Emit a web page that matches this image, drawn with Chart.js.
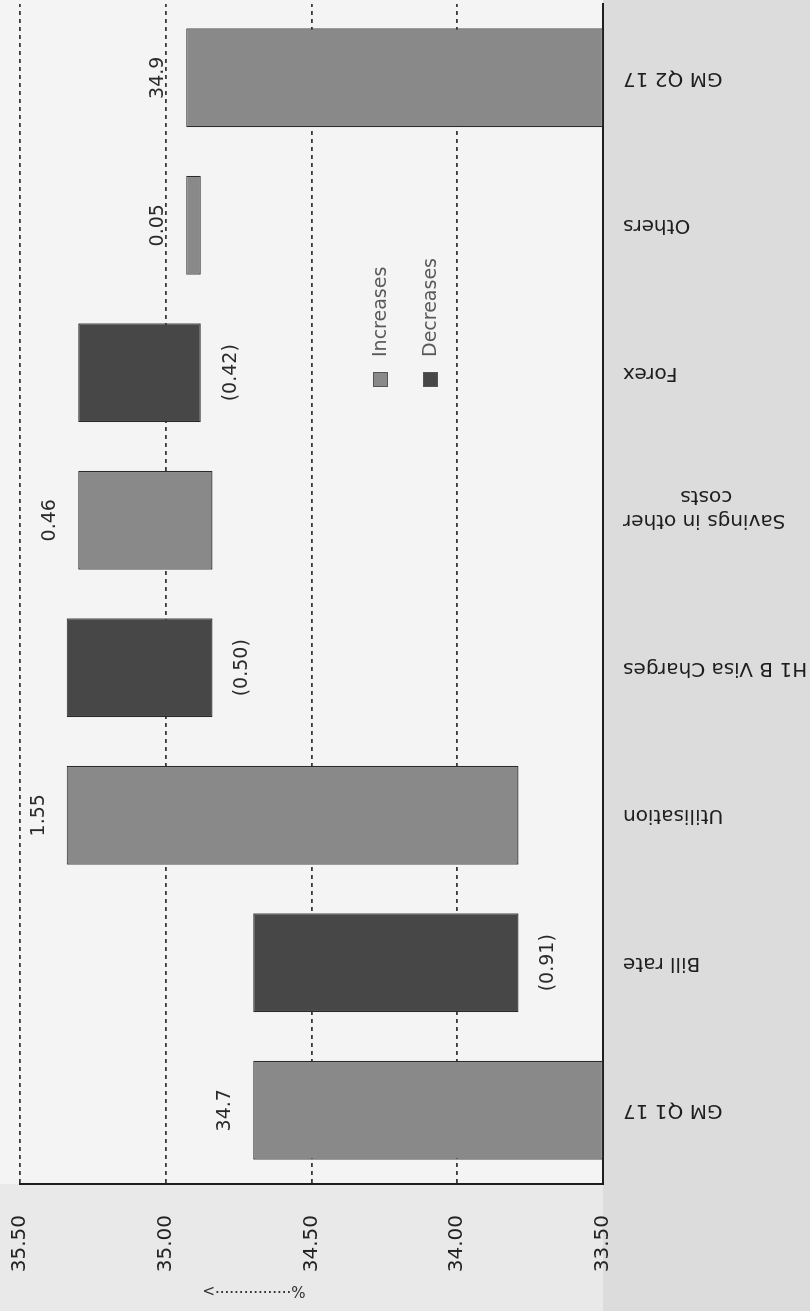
<!DOCTYPE html>
<html>
<head>
<meta charset="utf-8">
<script src="https://cdn.jsdelivr.net/npm/chart.js@4.4.1/dist/chart.umd.min.js"></script>
<style>
    html, body { margin: 0; padding: 0; background: #dedede; }
    body { width: 810px; height: 1311px; overflow: hidden; position: relative; }
    /* chart is drawn upright, then turned a quarter to the left like the scan */
    #wrap {
        position: absolute; left: 0; top: 0;
        width: 1311px; height: 810px;
        transform-origin: 0 0;
        transform: translateY(1311px) rotate(-90deg);
    }
</style>
</head>
<body>
<div id="wrap"><canvas id="chart" width="1311" height="810"></canvas></div>
<script>
    /* ─────────────────────────────────────────────
       Data
    ───────────────────────────────────────────── */
    const categories = ['GM Q1 17', 'Bill rate', 'Utilisation', 'H1 B Visa Charges',
        ['Savings in other', 'costs'], 'Forex', 'Others', 'GM Q2 17'];
    const startValue = 34.7;
    const changes = [-0.91, 1.55, -0.50, 0.46, -0.42, 0.05];
    const valueLabels = ['34.7', '(0.91)', '1.55', '(0.50)', '0.46', '(0.42)', '0.05', '34.9'];
    const axisMin = 33.5, axisMax = 35.5, axisStep = 0.5;

    const INC = '#898989';
    const DEC = '#474747';
    const EDGE = '#2a2a2a';
    const FONT = "'DejaVu Sans', sans-serif";

    /* ─────────────────────────────────────────────
       Waterfall bars
    ───────────────────────────────────────────── */
    const incBars = [[axisMin, startValue]];
    const decBars = [null];
    let level = startValue;
    changes.forEach(d => {
        const next = level + d;
        if (d >= 0) { incBars.push([level, next]); decBars.push(null); }
        else { decBars.push([next, level]); incBars.push(null); }
        level = next;
    });
    incBars.push([axisMin, level]);
    decBars.push(null);

    /* ─────────────────────────────────────────────
       Helpers
    ───────────────────────────────────────────── */
    // rotated tick lines are right-aligned by Chart.js; pad short lines so they sit centred
    const measure = document.createElement('canvas').getContext('2d');
    measure.font = '20px ' + FONT;
    function centreLines(lab) {
        if (!Array.isArray(lab)) return lab;
        const widest = Math.max(...lab.map(l => measure.measureText(l).width));
        const space = measure.measureText('\u00a0').width;
        return lab.map(l => l + '\u00a0'.repeat(Math.round((widest - measure.measureText(l).width) / 2 / space)));
    }

    /* ─────────────────────────────────────────────
       Plugins
    ───────────────────────────────────────────── */
    const paper = {
        id: 'paper',
        beforeDraw(chart) {
            const { ctx, chartArea: a } = chart;
            ctx.save();
            ctx.fillStyle = '#dcdcdc';
            ctx.fillRect(0, 0, chart.width, chart.height);
            ctx.fillStyle = '#e9e9e9';
            ctx.fillRect(0, 0, chart.width, a.bottom);
            ctx.fillStyle = '#f4f4f4';
            ctx.fillRect(a.left, 0, chart.width - a.left, a.bottom);
            ctx.restore();
        }
    };

    const barLabels = {
        id: 'barLabels',
        afterDatasetsDraw(chart) {
            const { ctx } = chart;
            ctx.save();
            ctx.font = '19px ' + FONT;
            ctx.fillStyle = '#2a2a2a';
            ctx.textAlign = 'center';
            ctx.textBaseline = 'middle';
            valueLabels.forEach((txt, i) => {
                const isDec = decBars[i] !== null;
                const el = chart.getDatasetMeta(isDec ? 1 : 0).data[i];
                const top = Math.min(el.y, el.base);
                const bottom = Math.max(el.y, el.base);
                ctx.fillText(txt, el.x, isDec ? bottom + 30 : top - 28);
            });
            ctx.restore();
        }
    };

    const legendBox = {
        id: 'legendBox',
        afterDraw(chart) {
            const { ctx, chartArea: a } = chart;
            const x = a.left + 797;
            const rows = [['Increases', INC, 381], ['Decreases', DEC, 431]];
            ctx.save();
            ctx.font = '19px ' + FONT;
            ctx.textBaseline = 'middle';
            rows.forEach(([name, color, y]) => {
                ctx.fillStyle = color;
                ctx.fillRect(x, y - 8, 15, 15);
                ctx.strokeStyle = '#555';
                ctx.lineWidth = 1;
                ctx.strokeRect(x + 0.5, y - 7.5, 14, 14);
                ctx.fillStyle = '#5a5a5a';
                ctx.fillText(name, x + 30, y);
            });

            // axis title: "%" with a dotted arrow pointing up
            ctx.translate(21, 254);
            ctx.rotate(-Math.PI / 2);
            ctx.textAlign = 'center';
            ctx.font = '15px ' + FONT;
            ctx.fillStyle = '#333';
            ctx.fillText('%' + '\u00b7'.repeat(16) + '>', 0, 0);
            ctx.restore();
        }
    };

    /* ─────────────────────────────────────────────
       Chart
    ───────────────────────────────────────────── */
    new Chart(document.getElementById('chart'), {
        type: 'bar',
        data: {
            labels: categories,
            datasets: [
                { label: 'Increases', data: incBars, backgroundColor: INC },
                { label: 'Decreases', data: decBars, backgroundColor: DEC }
            ]
        },
        options: {
            responsive: false,
            animation: false,
            grouped: false,
            categoryPercentage: 1,
            barPercentage: 0.67,
            borderColor: EDGE,
            borderWidth: 1.2,
            borderSkipped: false,
            layout: { padding: { top: 0, right: 4, left: 0, bottom: 0 } },
            plugins: { legend: { display: false }, tooltip: { enabled: false } },
            scales: {
                x: {
                    grid: { display: false, drawTicks: false },
                    border: { display: true, color: '#1e1e1e', width: 2 },
                    ticks: {
                        autoSkip: false,
                        minRotation: 90, maxRotation: 90,
                        padding: 20,
                        color: '#1e1e1e',
                        font: { family: FONT, size: 20 },
                        callback: (v, i) => centreLines(categories[i])
                    },
                    afterFit(scale) { scale.height = 207; }
                },
                y: {
                    min: axisMin, max: axisMax,
                    grid: { color: '#3a3a3a', lineWidth: 1.8, drawTicks: false },
                    border: { display: true, color: '#1e1e1e', width: 2, dash: [4, 4] },
                    ticks: {
                        stepSize: axisStep,
                        padding: 31,
                        color: '#222',
                        font: { family: FONT, size: 20 },
                        callback: v => v.toFixed(2)
                    },
                    afterFit(scale) {
                        scale.width = 127;
                        scale.paddingTop = 20;
                        scale.paddingBottom = 0;
                    }
                }
            }
        },
        plugins: [paper, barLabels, legendBox]
    });
</script>
</body>
</html>
